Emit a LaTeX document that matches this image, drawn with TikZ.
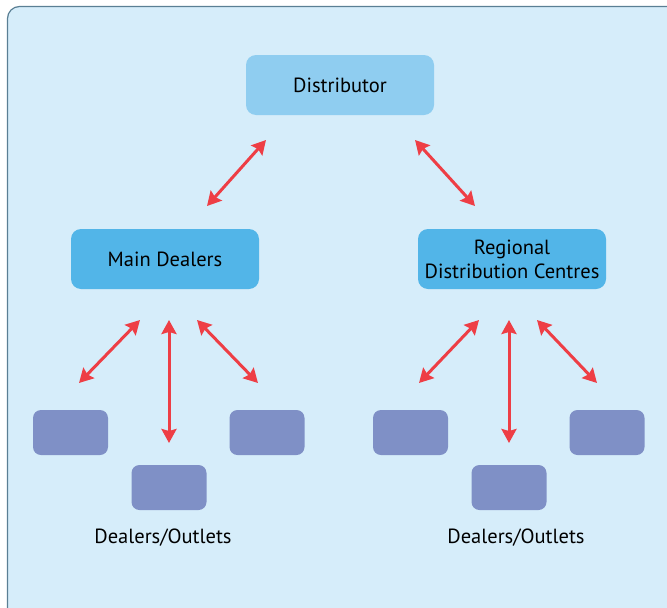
\documentclass[tikz,border=0pt]{standalone}
\usepackage{fontspec}
\setmainfont{PT Sans}
\usetikzlibrary{arrows.meta}
\definecolor{bgfill}{HTML}{D6EDFA}
\definecolor{bgline}{HTML}{5A7F94}
\definecolor{topfill}{HTML}{8FCDF0}
\definecolor{midfill}{HTML}{52B5E8}
\definecolor{lowfill}{HTML}{7F90C6}
\definecolor{arrred}{HTML}{EE3E45}
\tikzset{
  x=1pt, y=-1pt,
  bigbox/.style={rounded corners=10pt, minimum width=188pt, minimum height=60pt, inner sep=0pt, align=center, font=\fontsize{20.5}{24}\selectfont},
  topbox/.style={bigbox, fill=topfill},
  midbox/.style={bigbox, fill=midfill},
  smallbox/.style={rounded corners=8pt, minimum width=75pt, minimum height=45pt, inner sep=0pt, fill=lowfill},
  lbl/.style={font=\fontsize{20.5}{24}\selectfont},
  dbl/.style={draw=arrred, line width=3pt, {Stealth[length=14pt,width=15pt,inset=2pt]}-{Stealth[length=14pt,width=15pt,inset=2pt]}}
}
\begin{document}
\begin{tikzpicture}
\useasboundingbox (0,0) rectangle (667,608);
\begin{scope}
\clip (0,0) rectangle (667,608);
\draw[fill=bgfill, draw=bgline, line width=1.2pt, rounded corners=12pt] (7.5,6.5) rectangle (690,621);
\end{scope}
\node[topbox] (dist) at (340,85) {Distributor};
\node[midbox] (main) at (165,259) {Main Dealers};
\node[midbox] (reg) at (512,259) {Regional\\Distribution Centres};
\node[smallbox] (l1) at (70.5,432.5) {};
\node[smallbox] (l2) at (169,487.5) {};
\node[smallbox] (l3) at (267,432.5) {};
\node[smallbox] (r1) at (410.5,432.5) {};
\node[smallbox] (r2) at (509,487.5) {};
\node[smallbox] (r3) at (607,432.5) {};
\node[lbl] (lt) at (163,538) {Dealers/Outlets};
\node[lbl] (rt) at (516,538) {Dealers/Outlets};
\coordinate (a1) at (266,140); \coordinate (a2) at (207,206);
\coordinate (b1) at (415,140); \coordinate (b2) at (475,206);
\coordinate (c1) at (140,320); \coordinate (c2) at (79,383);
\coordinate (d1) at (169,320); \coordinate (d2) at (169,443);
\coordinate (e1) at (197,320); \coordinate (e2) at (258,383);
\coordinate (f1) at (479,320); \coordinate (f2) at (419,383);
\coordinate (g1) at (509,320); \coordinate (g2) at (509,443);
\coordinate (h1) at (537,320); \coordinate (h2) at (597,383);
\draw[dbl] (a1) -- (a2);
\draw[dbl] (b1) -- (b2);
\draw[dbl] (c1) -- (c2);
\draw[dbl] (d1) -- (d2);
\draw[dbl] (e1) -- (e2);
\draw[dbl] (f1) -- (f2);
\draw[dbl] (g1) -- (g2);
\draw[dbl] (h1) -- (h2);
\end{tikzpicture}
\end{document}
